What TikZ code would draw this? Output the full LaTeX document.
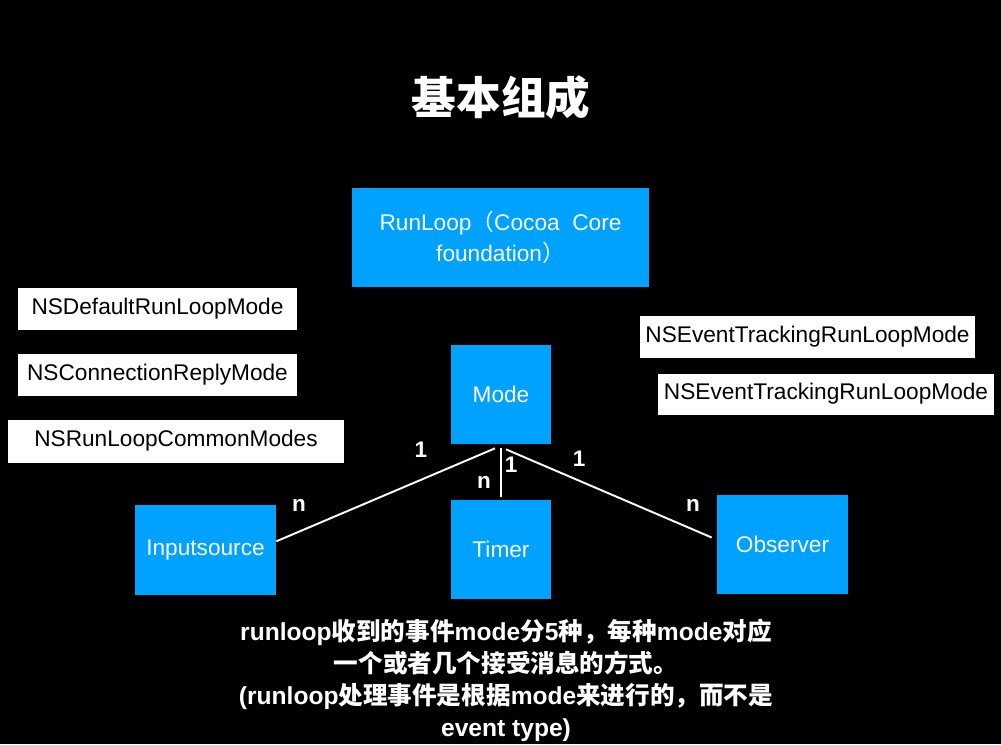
\documentclass[tikz,border=0pt]{standalone}
\usepackage{fontspec}
\setmainfont{Liberation Sans}
\newfontfamily\cjk{Noto Sans CJK SC}
\usetikzlibrary{calc}
\definecolor{boxblue}{RGB}{0,162,255}
\newcommand{\zh}[1]{{\cjk #1}}

\begin{document}
\begin{tikzpicture}[x=0.02cm, y=-0.02cm,
  bluebox/.style={fill=boxblue, text=white, inner sep=0pt, align=center, font=\fontsize{12.9}{17.6}\selectfont},
  whitebox/.style={fill=white, text=black, inner sep=0pt, font=\fontsize{12.9}{14}\selectfont},
  lbl/.style={text=white, inner sep=0pt, font=\bfseries\fontsize{12.8}{14}\selectfont},
  link/.style={white, line width=1.1pt}]
  % Background
  \fill[black] (0,0) rectangle (1001,744);
  \useasboundingbox (0,0) rectangle (1001,744);

  % Title
  \node[text=white, font=\cjk\bfseries\fontsize{25.4}{28}\selectfont] (title) at (501,97) {基本组成};

  % Blue boxes
  \node[bluebox, minimum width=5.94cm, minimum height=1.98cm] (runloop) at (500.5,237.5) {RunLoop\zh{（}Cocoa\ \ Core\\foundation\zh{）}};
  \node[bluebox, minimum width=2cm, minimum height=1.98cm] (mode) at (501,394.5) {Mode};
  \node[bluebox, minimum width=2.82cm, minimum height=1.8cm] (input) at (205.5,550) {Inputsource};
  \node[bluebox, minimum width=2cm, minimum height=1.98cm] (timer) at (501,549.5) {Timer};
  \node[bluebox, minimum width=2.62cm, minimum height=1.98cm] (observer) at (782.5,544.5) {Observer};

  % Mode names
  \node[whitebox, minimum width=5.58cm, minimum height=0.84cm] (default) at (157.5,308.5) {NSDefaultRunLoopMode};
  \node[whitebox, minimum width=5.58cm, minimum height=0.84cm] (connection) at (157.5,374.5) {NSConnectionReplyMode};
  \node[whitebox, minimum width=6.72cm, minimum height=0.86cm] (common) at (176,441) {NSRunLoopCommonModes};
  \node[whitebox, minimum width=6.7cm, minimum height=0.84cm] (tracking) at (807.5,336.5) {NSEventTrackingRunLoopMode};
  \node[whitebox, minimum width=6.72cm, minimum height=0.82cm] (trackingb) at (826,394) {NSEventTrackingRunLoopMode};

  % Links
  \draw[link] (input.7) -- ($(mode.south)+(-6,4)$);
  \draw[link] ($(mode.south)+(0,4)$) -- ($(timer.north)+(0,-3)$);
  \draw[link] ($(mode.south)+(5,5)$) -- ($(observer.west)+(-5,-7)$);

  % Multiplicities
  \node[lbl] (one1) at (421,450) {1};
  \node[lbl] (n1) at (299,505) {n};
  \node[lbl] (one2) at (511,465) {1};
  \node[lbl] (n2) at (484,482) {n};
  \node[lbl] (one3) at (579,459) {1};
  \node[lbl] (n3) at (693,505) {n};

  % Note
  \node[text=white, align=center, font=\bfseries\fontsize{14}{18.2}\selectfont] (note) at (506,680)
    {runloop\zh{收到的事件}mode\zh{分}5\zh{种，每种}mode\zh{对应}\\
     \zh{一个或者几个接受消息的方式。}\\
     (runloop\zh{处理事件是根据}mode\zh{来进行的，而不是}\\
     event type)};
\end{tikzpicture}
\end{document}
